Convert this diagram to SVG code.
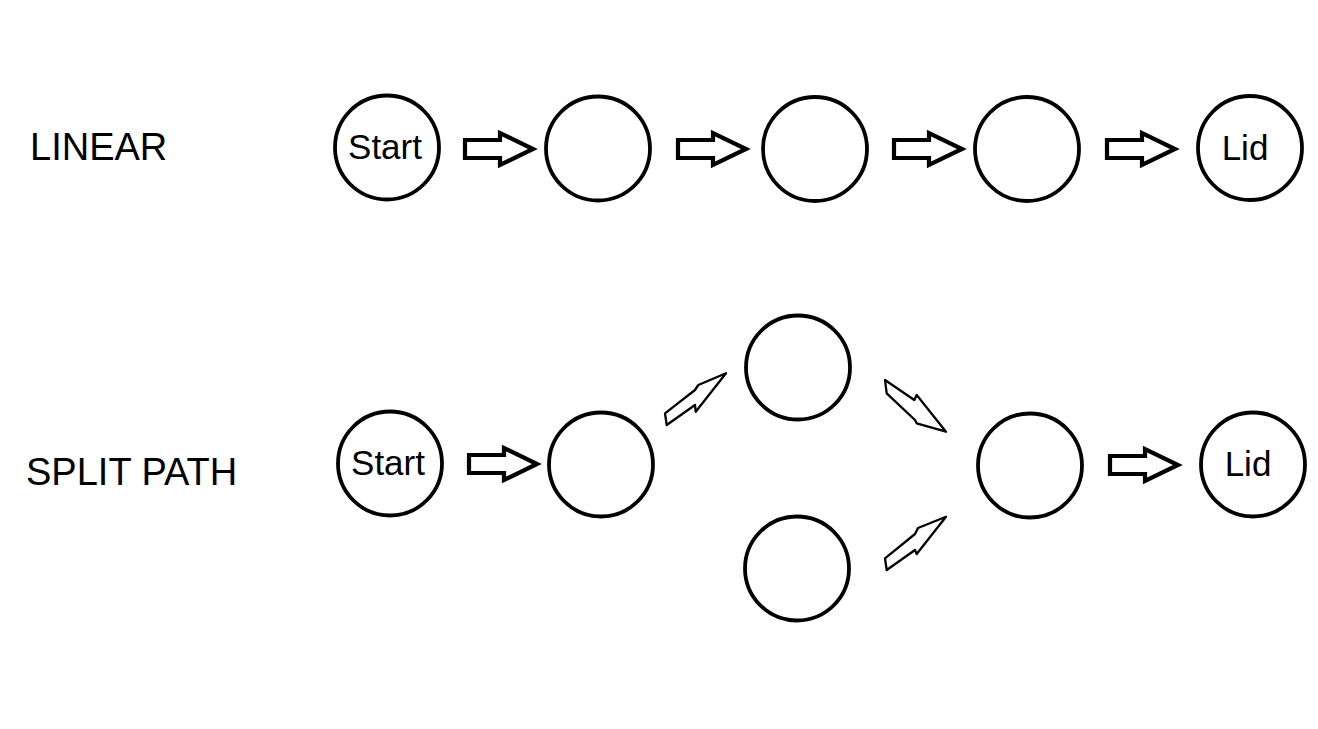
<svg xmlns="http://www.w3.org/2000/svg" xmlns:xlink="http://www.w3.org/1999/xlink" width="1318" height="729" viewBox="0 0 1318 729">
<style>
.node{fill:#fff;stroke:#000;stroke-width:3.8}
.lbl{font-family:"Liberation Sans",Arial,sans-serif;font-size:35px;fill:#000;text-anchor:middle}
.title{font-family:"Liberation Sans",Arial,sans-serif;fill:#000}
.blk{fill:#fff;stroke:#000;stroke-width:4.2;stroke-linejoin:miter}
.thin{fill:#fff;stroke:#000;stroke-width:2.3;stroke-linejoin:round}
</style>
<defs>
<path id="blockArrow" d="M0,-9 H35 V-16 L68,0 L35,16 V9 H0 Z"/>
</defs>
<rect width="1318" height="729" fill="#fff"/>
<text class="title" x="30" y="160" font-size="38">LINEAR</text>
<text class="title" x="26" y="485" font-size="38">SPLIT PATH</text>
<g id="connectors">
<use xlink:href="#blockArrow" class="blk" x="465" y="149"/>
<use xlink:href="#blockArrow" class="blk" x="678" y="149"/>
<use xlink:href="#blockArrow" class="blk" x="894" y="149"/>
<use xlink:href="#blockArrow" class="blk" x="1107" y="149"/>
<use xlink:href="#blockArrow" class="blk" x="469" y="464"/>
<use xlink:href="#blockArrow" class="blk" x="1110" y="465"/>
<path class="thin" d="M666.7,425 L665,413.3 L695,390 L698.3,385 L726,373.3 L695.7,411.7 L695,405 Z"/>
<path class="thin" d="M885,380 L886.7,393.3 L915,420 L916.7,423.3 L946,431.7 L916.7,395 L914.3,400 Z"/>
<path class="thin" d="M886.7,570 L885,558.3 L915,534 L918,528 L946,516.7 L916.7,554 L915,550 Z"/>
</g>
<g id="lin-start"><circle class="node" cx="387" cy="147.5" r="52"/><text class="lbl" x="385" y="159">Start</text></g>
<g id="lin-2"><circle class="node" cx="598" cy="148.5" r="52"/></g>
<g id="lin-3"><circle class="node" cx="815" cy="149" r="52"/></g>
<g id="lin-4"><circle class="node" cx="1027" cy="149" r="52"/></g>
<g id="lin-lid"><circle class="node" cx="1250" cy="148" r="52"/><text class="lbl" x="1245" y="160">Lid</text></g>
<g id="split-start"><circle class="node" cx="390" cy="463.5" r="52"/><text class="lbl" x="388" y="475">Start</text></g>
<g id="split-2"><circle class="node" cx="601" cy="464.5" r="52"/></g>
<g id="split-top"><circle class="node" cx="798" cy="367.5" r="52"/></g>
<g id="split-bottom"><circle class="node" cx="797" cy="568.5" r="52"/></g>
<g id="split-merge"><circle class="node" cx="1030" cy="465.5" r="52"/></g>
<g id="split-lid"><circle class="node" cx="1253" cy="464.5" r="52"/><text class="lbl" x="1248" y="476">Lid</text></g>
</svg>
